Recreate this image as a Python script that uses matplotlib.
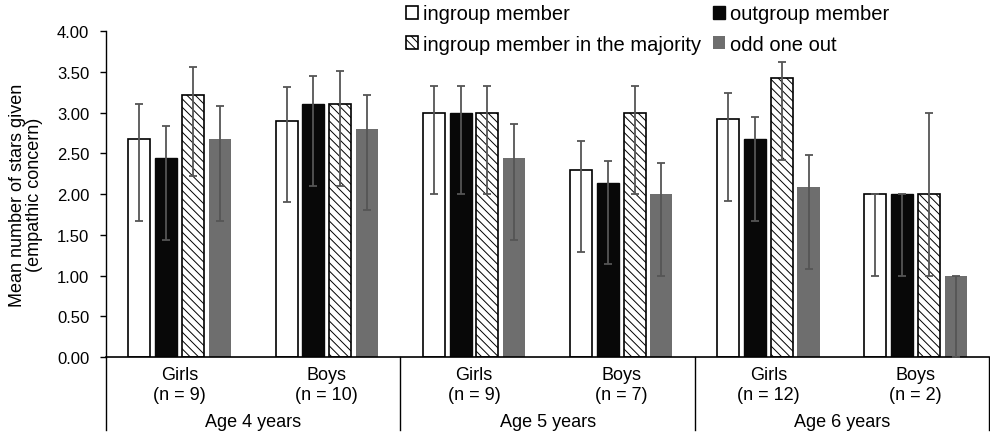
import matplotlib.pyplot as plt
import numpy as np

plt.rcParams["font.family"] = ["Liberation Sans", "DejaVu Sans"]
plt.rcParams["hatch.linewidth"] = 0.7

# ---------------------------------------------------------------------------
# Data
# ---------------------------------------------------------------------------
genders = ["Girls", "Boys", "Girls", "Boys", "Girls", "Boys"]
group_ns = ["(n = 9)", "(n = 10)", "(n = 9)", "(n = 7)", "(n = 12)", "(n = 2)"]
age_labels = ["Age 4 years", "Age 5 years", "Age 6 years"]

conditions = ["ingroup member", "outgroup member",
              "ingroup member in the majority", "odd one out"]

ingroup_mean = [2.67, 2.90, 3.00, 2.29, 2.92, 2.00]
ingroup_lo = [1.67, 1.90, 2.00, 1.29, 1.92, 1.00]
ingroup_hi = [3.11, 3.31, 3.33, 2.65, 3.24, 2.00]

outgroup_mean = [2.44, 3.10, 3.00, 2.14, 2.67, 2.00]
outgroup_lo = [1.44, 2.10, 2.00, 1.14, 1.67, 1.00]
outgroup_hi = [2.83, 3.45, 3.33, 2.41, 2.95, 2.00]

majority_mean = [3.22, 3.10, 3.00, 3.00, 3.42, 2.00]
majority_lo = [2.22, 2.10, 2.00, 2.00, 2.42, 1.00]
majority_hi = [3.56, 3.51, 3.33, 3.32, 3.62, 3.00]

oddone_mean = [2.67, 2.80, 2.44, 2.00, 2.08, 1.00]
oddone_lo = [1.67, 1.80, 1.44, 1.00, 1.08, 0.00]
oddone_hi = [3.08, 3.22, 2.86, 2.38, 2.48, 1.00]

yticks = [0.0, 0.5, 1.0, 1.5, 2.0, 2.5, 3.0, 3.5, 4.0]


def main():
    fig = plt.figure(figsize=(9.9, 4.35), dpi=100)
    ax = fig.add_axes([0.1071, 0.177, 0.892, 0.7494])

    x = np.arange(len(genders))
    step = 0.182
    width = 0.15
    styles = [
        dict(color="white", edgecolor="black", linewidth=1.2),
        dict(color="#080808", edgecolor="#080808", linewidth=1.0),
        dict(color="white", edgecolor="black", linewidth=1.2, hatch="\\\\\\\\"),
        dict(color="#6e6e6e", edgecolor="#6e6e6e", linewidth=0.0),
    ]
    series = [
        (ingroup_mean, ingroup_lo, ingroup_hi),
        (outgroup_mean, outgroup_lo, outgroup_hi),
        (majority_mean, majority_lo, majority_hi),
        (oddone_mean, oddone_lo, oddone_hi),
    ]
    handles = []
    for i, ((mean, lo, hi), st) in enumerate(zip(series, styles)):
        mean = np.array(mean)
        yerr = [mean - np.array(lo), np.array(hi) - mean]
        pos = x + (i - 1.5) * step
        b = ax.bar(pos, mean, width, label=conditions[i], zorder=2, **st)
        ax.errorbar(pos, mean, yerr=yerr, fmt="none", ecolor="#555555",
                    elinewidth=1.3, capsize=3, capthick=1.3, zorder=3)
        handles.append(b)

    ax.set_xlim(-0.5, len(genders) - 0.5)
    ax.set_ylim(0, 4)
    ax.set_yticks(yticks)
    ax.set_yticklabels([f"{v:.2f}" for v in yticks], fontsize=12)
    ax.tick_params(axis="y", direction="out", length=4, width=1, pad=8)
    ax.set_xticks([])
    for side in ["top", "right"]:
        ax.spines[side].set_visible(False)
    ax.spines["left"].set_linewidth(1.0)
    ax.spines["bottom"].set_linewidth(1.2)
    ax.set_ylabel("Mean number of stars given\n(empathic concern)",
                  fontsize=13, labelpad=10, linespacing=1.0)

    # hierarchical category axis below the bars
    trans = ax.get_xaxis_transform()
    for k in range(len(age_labels) + 1):
        xd = -0.5 + 2 * k
        ax.plot([xd, xd], [0, -0.225], transform=trans, color="black",
                linewidth=1.0, clip_on=False)
    for xi, (g, n) in enumerate(zip(genders, group_ns)):
        ax.text(xi, -0.053, g, transform=trans, ha="center", va="center",
                fontsize=13)
        ax.text(xi, -0.115, n, transform=trans, ha="center", va="center",
                fontsize=13)
    for k, lab in enumerate(age_labels):
        ax.text(2 * k + 0.5, -0.197, lab, transform=trans, ha="center",
                va="center", fontsize=13)

    # legend filled row by row: matplotlib fills columns, so reorder
    order = [0, 2, 1, 3]
    fig.legend([handles[i] for i in order], [conditions[i] for i in order],
               ncol=2, loc="upper left", bbox_to_anchor=(0.402, 1.006),
               frameon=False, fontsize=14.5,
               handlelength=0.6, handleheight=0.6, handletextpad=0.25,
               columnspacing=0.6, labelspacing=0.55, borderaxespad=0)

    fig.savefig("out.png", dpi=100)
    plt.close(fig)


if __name__ == "__main__":
    main()
